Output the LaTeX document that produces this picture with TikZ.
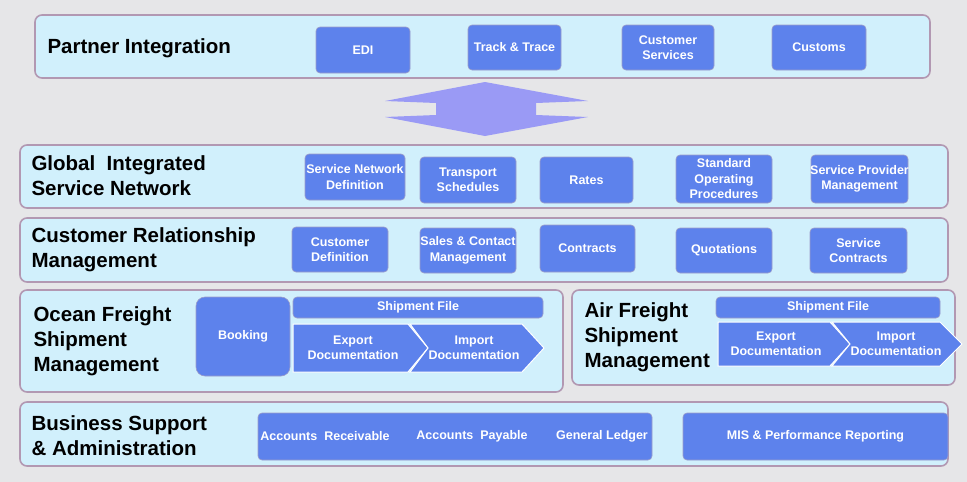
\documentclass[tikz,border=0pt]{standalone}
\usepackage{fontspec}
\setmainfont{Liberation Sans}
\begin{document}
\begin{tikzpicture}[x=1pt,y=-1pt,
  band/.style={draw=violet!35!gray!60,line width=1.6pt,fill=cyan!18!white,rounded corners=7pt},
  bx/.style={draw=blue!30!gray!60,line width=0.6pt,fill=blueb,rounded corners=4pt},
  ttl/.style={font=\bfseries\fontsize{20.5}{25}\selectfont,anchor=west,align=left,text=black},
  wt/.style={font=\bfseries\fontsize{12.5}{15.5}\selectfont,text=white,align=center}]
\definecolor{blueb}{HTML}{5D82EC}
\definecolor{bg}{HTML}{E6E6E8}
\definecolor{arr}{HTML}{9A9AF5}
\fill[bg] (0,0) rectangle (967,482);
\useasboundingbox (0,0) rectangle (967,482);
\newcommand{\bb}[6]{\node[bx,minimum width=#3-#1,minimum height=#4-#2,inner sep=0pt] (#5) at ({(#1+#3)/2},{(#2+#4)/2}) {}; \node[wt] at (#5) {#6};}
% band 1
\draw[band] (35,15) rectangle (930,78);
\node[ttl] (t1) at (44,48) {Partner Integration};
\bb{316}{27}{410}{73}{edi}{EDI}
\bb{468}{25}{561}{70}{tt}{Track \& Trace}
\bb{622}{25}{714}{70}{cs}{Customer\\Services}
\bb{772}{25}{866}{70}{cu}{Customs}
% arrow
\fill[arr] (485,82)--(588,101)--(536,103)--(536,115)--(588,117)--(485,136)--(385,117)--(436,115)--(436,103)--(385,101)--cycle;
% band 2
\draw[band] (20,145) rectangle (948,208);
\node[ttl] (t2) at (28,176) {Global\ \ Integrated\\Service Network};
\bb{305}{154}{405}{200}{snd}{Service Network\\Definition}
\bb{420}{157}{516}{203}{ts}{Transport\\Schedules}
\bb{540}{157}{633}{203}{ra}{Rates}
\bb{676}{155}{772}{203}{sop}{Standard\\Operating\\Procedures}
\bb{811}{155}{908}{203}{spm}{Service Provider\\Management}
% band 3
\draw[band] (20,218) rectangle (948,282);
\node[ttl] (t3) at (28,250) {Customer Relationship\\Management};
\bb{292}{227}{388}{272}{cd}{Customer\\Definition}
\bb{420}{228}{516}{273}{scm}{Sales \& Contact\\Management}
\bb{540}{225}{635}{272}{co}{Contracts}
\bb{676}{228}{772}{273}{qu}{Quotations}
\bb{810}{228}{907}{273}{sc}{Service\\Contracts}
% band 4a
\draw[band] (20,290) rectangle (563,392);
\node[ttl,align=left] (t4) at (30,341) {Ocean Freight\\Shipment\\Management};
\node[bx,rounded corners=9pt,minimum width=94,minimum height=79,inner sep=0pt] (bk) at (243,336.5) {};
\node[wt] at (243,336) {Booking};
\bb{293}{297}{543}{318}{sf1}{Shipment File}
\fill[blueb,draw=white,line width=1pt] (293,324)--(408,324)--(428,348)--(408,372)--(293,372)--cycle;
\fill[blueb,draw=white,line width=1pt] (410,324)--(522,324)--(544,348)--(522,372)--(410,372)--(428,348)--cycle;
\node[wt] (ex1) at (353,348) {Export\\Documentation};
\node[wt] (im1) at (474,348) {Import\\Documentation};
% band 4b
\draw[band] (572,290) rectangle (955,385);
\node[ttl] (t5) at (581,337) {Air Freight\\Shipment\\Management};
\bb{716}{297}{940}{318}{sf2}{Shipment File}
\fill[blueb,draw=white,line width=1pt] (718,322)--(830,322)--(850,344)--(830,366)--(718,366)--cycle;
\fill[blueb,draw=white,line width=1pt] (832,322)--(940,322)--(962,344)--(940,366)--(832,366)--(850,344)--cycle;
\node[wt] (ex2) at (776,344) {Export\\Documentation};
\node[wt] (im2) at (896,344) {Import\\Documentation};
% band 5
\draw[band] (20,402) rectangle (948,466);
\node[ttl] (t6) at (28,436) {Business Support\\\& Administration};
\bb{258}{413}{652}{460}{acc}{}
\node[wt] at (325,436) {Accounts\ \ Receivable};
\node[wt] at (472,436) {Accounts\ \ Payable};
\node[wt] at (602,436) {General Ledger};
\bb{683}{413}{948}{460}{mis}{MIS \& Performance Reporting}
\end{tikzpicture}
\end{document}
